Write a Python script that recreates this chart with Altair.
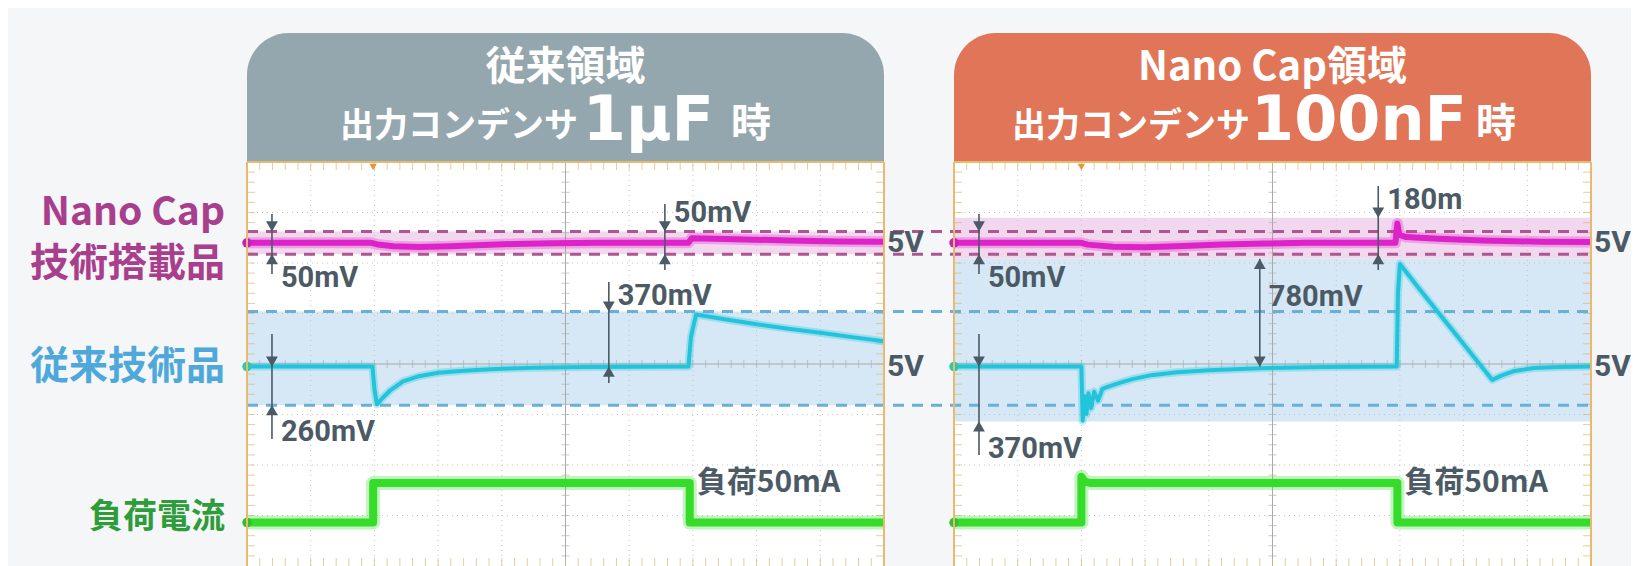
import altair as alt
import numpy as np
import pandas as pd

# ---------------- values ----------------
# time axis: oscilloscope divisions (10 per screen)
# output voltages: deviation from 5 V in mV, load current in mA
panels = ["L", "R"]
header_line1 = ["従来領域", "Nano Cap領域"]
header_cap = ["1μF", "100nF"]
header_fill = ["#95a7ae", "#e07558"]

nano_left_t = [0, 1.95, 2.05, 2.3, 2.7, 3.2, 3.7, 4.2, 4.8, 5.5, 6.93, 6.98, 7.5, 8.5, 9.3, 10]
nano_left_v = [0, 0, -7, -15, -18, -15, -10, -5, -2, 0, 0, 20, 17, 10, 6, 5]

conv_left_t = [0, 1.97, 2.0, 2.04, 2.12, 2.25, 2.45, 2.7, 3.0, 3.4, 3.9, 4.5, 5.3, 6.93,
               6.97, 7.05, 7.5, 8.0, 8.5, 9.0, 9.5, 10]
conv_left_v = [0, 0, -150, -255, -215, -160, -100, -65, -42, -28, -16, -9, -4, 0,
               200, 350, 318, 285, 255, 227, 198, 170]

load_left_t = [0, 1.98, 1.98, 6.95, 6.95, 10]
load_left_v = [0, 0, 50, 50, 0, 0]

nano_right_t = [0, 2.0, 2.1, 2.5, 3.0, 3.6, 4.2, 4.9, 5.5, 6.93, 6.96, 6.99, 7.1, 7.6, 8.3, 9.2, 10]
nano_right_v = [0, 0, -8, -17, -19, -14, -8, -3, 0, 0, 85, 35, 25, 18, 10, 5, 3]

conv_right_t = [0, 2.0, 2.02, 2.05, 2.08, 2.11, 2.15, 2.2, 2.26, 2.33, 2.42, 2.6, 2.8, 3.1, 3.5,
                4.0, 4.8, 5.8, 6.95, 6.97, 7.0, 7.3, 7.7, 8.1, 8.45, 8.6, 8.8, 9.1, 9.5, 10]
conv_right_v = [0, 0, -365, -200, -320, -180, -280, -170, -230, -150, -135, -110, -85, -58, -38,
                -25, -12, -4, 0, 500, 690, 525, 311, 97, -90, -60, -30, -10, -3, 0]

load_right_t = [0, 2.0, 2.0, 2.05, 2.15, 6.96, 6.96, 10]
load_right_v = [0, 0, 58, 52, 50, 50, 0, 0]

trigger_t = [1.98, 2.0]
load_label_t = [6.95, 6.96]

# tolerance bands (mV) per panel / channel
band_panel = ["L", "L", "R", "R"]
band_ch = ["m", "c", "m", "c"]
band_lo = [-50, -260, -70, -370]
band_hi = [50, 370, 110, 725]

# reference dashed levels (mV), drawn across both screens
ref_ch = ["m", "m", "c", "c"]
ref_v = [50, -50, 370, -260]

# measurement arrows
ann_panel = ["L", "L", "L", "L", "R", "R", "R", "R"]
ann_t = [0.392, 6.56, 5.68, 0.392, 0.392, 0.392, 4.80, 6.66]
ann_ch = ["m", "m", "c", "c", "m", "c", "c", "m"]
ann_hi = [50, 50, 370, 0, 50, 0, 725, 110]
ann_lo = [-50, -50, 0, -260, -50, -370, 0, -50]
ann_text = ["50mV", "50mV", "370mV", "260mV", "50mV", "370mV", "780mV", "180m"]
ann_style = ["out", "out", "out", "out", "out", "out", "in", "out"]

# ---------------- layout (scope divisions) ----------------
W, H = 1623, 558
PX_X, PX_Y = 63.7, 50.5
XMIN = -3.752
XMAX = XMIN + W / PX_X
YMIN = -4.0
YMAX = YMIN + H / PX_Y
R_OFF = 11.099          # right screen starts 11.099 divisions after the left one
HEAD_TOP = 6.554

# channel offset (div) and sensitivity (units per div)
M_OFF, M_DIV = 2.40, 221.6
C_OFF, C_DIV = -0.05, 340.0
G_OFF, G_DIV = -3.14, 64.0

ann_line_top = [2.971, 3.169, 1.624, 0.594, 2.971, 0.594, None, 3.525]
ann_line_bot = [1.783, 1.862, -0.376, -1.485, 1.783, -1.802, None, 1.862]
ann_label_y = [1.525, 2.812, 1.169, -1.524, 1.525, -1.861, 1.149, 3.070]

TRACE_COL = {"m": "#dc22c8", "c": "#22c4dc", "g": "#36dc2a"}
MARK_COL = {"m": "#c81fc0", "c": "#2cc9a6", "g": "#30c030"}
FRAME = "#e8b96e"
INK = "#4b5a65"
JP = "Noto Sans CJK JP"
NARROW = "Liberation Sans Narrow, Roboto"

xs = alt.Scale(domain=[XMIN, XMAX], nice=False, zero=False)
ys = alt.Scale(domain=[YMIN, YMAX], nice=False, zero=False)


def X(f):
    return alt.X(f"{f}:Q", scale=xs, axis=None)


def Y(f):
    return alt.Y(f"{f}:Q", scale=ys, axis=None)


def xexpr(field):
    return f"datum.{field} + (datum.panel === 'R' ? {R_OFF} : 0)"


def yexpr(field):
    return (f"datum.ch === 'm' ? {M_OFF} + datum.{field} / {M_DIV} : "
            f"datum.ch === 'c' ? {C_OFF} + datum.{field} / {C_DIV} : "
            f"{G_OFF} + datum.{field} / {G_DIV}")


layers = []

# header boxes
head = pd.DataFrame({"panel": panels, "t0": [0, 0], "t1": [10, 10],
                     "y0": [4, 4], "y1": [HEAD_TOP, HEAD_TOP], "fill": header_fill})
layers.append(alt.Chart(head).transform_calculate(gx0=xexpr("t0"), gx1=xexpr("t1"))
              .mark_rect(cornerRadiusTopLeft=42, cornerRadiusTopRight=42)
              .encode(x=X("gx0"), x2="gx1", y=Y("y0"), y2="y1",
                      color=alt.Color("fill:N", scale=None)))

# scope screen
screen = pd.DataFrame({"panel": panels, "t0": [0, 0], "t1": [10, 10], "y0": [YMIN, YMIN], "y1": [4, 4]})
layers.append(alt.Chart(screen).transform_calculate(gx0=xexpr("t0"), gx1=xexpr("t1"))
              .mark_rect(color="white")
              .encode(x=X("gx0"), x2="gx1", y=Y("y0"), y2="y1"))

# bands
bands = pd.DataFrame({"panel": band_panel, "ch": band_ch, "lo": band_lo, "hi": band_hi,
                      "t0": 0, "t1": 10})
bands["fill"] = bands["ch"].map({"m": "#f2d8ee", "c": "#d6e8f5"})
layers.append(alt.Chart(bands)
              .transform_calculate(gx0=xexpr("t0"), gx1=xexpr("t1"), ylo=yexpr("lo"), yhi=yexpr("hi"))
              .mark_rect()
              .encode(x=X("gx0"), x2="gx1", y=Y("ylo"), y2="yhi",
                      color=alt.Color("fill:N", scale=None)))

# grid
gv = pd.DataFrame([(p, t) for p in panels for t in [1, 2, 3, 4, 6, 7, 8, 9]], columns=["panel", "t"])
gv["y0"], gv["y1"] = YMIN, 4
layers.append(alt.Chart(gv).transform_calculate(gx=xexpr("t"))
              .mark_rule(color="#c4c4c4", strokeWidth=1, strokeDash=[1, 4])
              .encode(x=X("gx"), y=Y("y0"), y2="y1"))
gh = pd.DataFrame([(p, y) for p in panels for y in [-3, -2, -1, 1, 2, 3]], columns=["panel", "y"])
gh["t0"], gh["t1"] = 0, 10
layers.append(alt.Chart(gh).transform_calculate(gx0=xexpr("t0"), gx1=xexpr("t1"))
              .mark_rule(color="#c4c4c4", strokeWidth=1, strokeDash=[1, 4])
              .encode(x=X("gx0"), x2="gx1", y=Y("y")))
cv = pd.DataFrame({"panel": panels, "t": [5, 5], "y0": [YMIN, YMIN], "y1": [4, 4]})
layers.append(alt.Chart(cv).transform_calculate(gx=xexpr("t"))
              .mark_rule(color="#a9a9a9", strokeWidth=1)
              .encode(x=X("gx"), y=Y("y0"), y2="y1"))
ch_ = pd.DataFrame({"panel": panels, "y": [0, 0], "t0": [0, 0], "t1": [10, 10]})
layers.append(alt.Chart(ch_).transform_calculate(gx0=xexpr("t0"), gx1=xexpr("t1"))
              .mark_rule(color="#a9a9a9", strokeWidth=1)
              .encode(x=X("gx0"), x2="gx1", y=Y("y")))

# minor ticks
tsteps = np.round(np.arange(0.2, 10, 0.2), 2)
ysteps = np.round(np.arange(-3.8, 4, 0.2), 2)
tk_h = pd.DataFrame([(p, t) for p in panels for t in tsteps], columns=["panel", "t"])
for yy, off, col in [(4, 4, "#d9b878"), (YMIN, -4, "#d9b878"), (0, 0, "#b0b0b0")]:
    d = tk_h.copy()
    d["y"] = yy
    layers.append(alt.Chart(d).transform_calculate(gx=xexpr("t"))
                  .mark_tick(orient="vertical", size=8, thickness=1, yOffset=off, color=col)
                  .encode(x=X("gx"), y=Y("y")))
tk_v = pd.DataFrame([(p, y) for p in panels for y in ysteps], columns=["panel", "y"])
for tt, off, col in [(0, 4, "#d9b878"), (10, -4, "#d9b878"), (5, 0, "#b0b0b0")]:
    d = tk_v.copy()
    d["t"] = tt
    layers.append(alt.Chart(d).transform_calculate(gx=xexpr("t"))
                  .mark_tick(orient="horizontal", size=8, thickness=1, xOffset=off, color=col)
                  .encode(x=X("gx"), y=Y("y")))

# dashed reference levels spanning both screens
refs = pd.DataFrame({"panel": "L", "ch": ref_ch, "v": ref_v, "t0": 0, "t1": R_OFF + 10})
refs["col"] = refs["ch"].map({"m": "#ad5690", "c": "#68b0d8"})
layers.append(alt.Chart(refs).transform_calculate(gx0=xexpr("t0"), gx1=xexpr("t1"), y=yexpr("v"))
              .mark_rule(strokeWidth=3, strokeDash=[11, 8])
              .encode(x=X("gx0"), x2="gx1", y=Y("y"), color=alt.Color("col:N", scale=None)))

# traces
rows = []
for panel, ch, ts, vs in [("L", "m", nano_left_t, nano_left_v), ("L", "c", conv_left_t, conv_left_v),
                          ("L", "g", load_left_t, load_left_v), ("R", "m", nano_right_t, nano_right_v),
                          ("R", "c", conv_right_t, conv_right_v), ("R", "g", load_right_t, load_right_v)]:
    for i, (t, v) in enumerate(zip(ts, vs)):
        rows.append((panel, ch, panel + ch, i, t, v))
traces = pd.DataFrame(rows, columns=["panel", "ch", "series", "i", "t", "v"])
widths = {"m": (11, 6), "c": (8, 4), "g": (14, 8)}
for ch, (halo, core) in widths.items():
    base = (alt.Chart(traces).transform_filter(f"datum.ch === '{ch}'")
            .transform_calculate(gx=xexpr("t"), y=yexpr("v")))
    enc = dict(x=X("gx"), y=Y("y"), detail="series:N", order="i:Q")
    layers.append(base.mark_line(color=TRACE_COL[ch], strokeWidth=halo, opacity=0.3,
                                 strokeJoin="round").encode(**enc))
    layers.append(base.mark_line(color=TRACE_COL[ch], strokeWidth=core,
                                 strokeJoin="round").encode(**enc))

# channel markers at screen edge
mk = pd.DataFrame([(p, c) for p in panels for c in ["m", "c", "g"]], columns=["panel", "ch"])
mk["t"], mk["v"] = 0, 0
mk["col"] = mk["ch"].map(MARK_COL)
layers.append(alt.Chart(mk).transform_calculate(gx=xexpr("t"), y=yexpr("v"))
              .mark_point(filled=True, size=90, opacity=1)
              .encode(x=X("gx"), y=Y("y"), color=alt.Color("col:N", scale=None)))

# frame
fr_top = pd.DataFrame({"panel": panels, "t0": [0, 0], "t1": [10, 10], "y": [4, 4]})
layers.append(alt.Chart(fr_top).transform_calculate(gx0=xexpr("t0"), gx1=xexpr("t1"))
              .mark_rule(color=FRAME, strokeWidth=2)
              .encode(x=X("gx0"), x2="gx1", y=Y("y")))
fr_side = pd.DataFrame([(p, t) for p in panels for t in [0, 10]], columns=["panel", "t"])
fr_side["y0"], fr_side["y1"] = YMIN, 4
layers.append(alt.Chart(fr_side).transform_calculate(gx=xexpr("t"))
              .mark_rule(color=FRAME, strokeWidth=2)
              .encode(x=X("gx"), y=Y("y0"), y2="y1"))

# trigger marker
trg = pd.DataFrame({"panel": panels, "t": trigger_t, "y": [4, 4]})
layers.append(alt.Chart(trg).transform_calculate(gx=xexpr("t"))
              .mark_point(shape="triangle-down", filled=True, size=55, color="#e8963a", opacity=1, yOffset=5)
              .encode(x=X("gx"), y=Y("y")))

# measurement arrows
ann = pd.DataFrame({"panel": ann_panel, "t": ann_t, "ch": ann_ch, "hi": ann_hi, "lo": ann_lo,
                    "text": ann_text, "style": ann_style, "ltop": ann_line_top,
                    "lbot": ann_line_bot, "ly": ann_label_y})
out = ann[ann["style"] == "out"]
inn = ann[ann["style"] == "in"].drop(columns=["ltop", "lbot"])
layers.append(alt.Chart(out).transform_calculate(gx=xexpr("t"))
              .mark_rule(color=INK, strokeWidth=1.6)
              .encode(x=X("gx"), y=Y("ltop"), y2="lbot"))
layers.append(alt.Chart(inn).transform_calculate(gx=xexpr("t"), yh=yexpr("hi"), yl=yexpr("lo"))
              .mark_rule(color=INK, strokeWidth=1.6)
              .encode(x=X("gx"), y=Y("yh"), y2="yl"))
heads = []
for _, r in ann.iterrows():
    if r["style"] == "out":
        heads.append((r["panel"], r["t"], r["ch"], r["hi"], "down"))
        heads.append((r["panel"], r["t"], r["ch"], r["lo"], "up"))
    else:
        heads.append((r["panel"], r["t"], r["ch"], r["hi"], "up"))
        heads.append((r["panel"], r["t"], r["ch"], r["lo"], "down"))
heads = pd.DataFrame(heads, columns=["panel", "t", "ch", "v", "dir"])
for d, off in [("down", -5), ("up", 5)]:
    layers.append(alt.Chart(heads[heads["dir"] == d]).transform_calculate(gx=xexpr("t"), y=yexpr("v"))
                  .mark_point(shape=f"triangle-{d}", filled=True, size=140, color=INK, opacity=1, yOffset=off)
                  .encode(x=X("gx"), y=Y("y")))
layers.append(alt.Chart(ann).transform_calculate(gx=xexpr("t"))
              .mark_text(font=NARROW, fontSize=29, fontWeight="bold", color=INK, align="left",
                         baseline="alphabetic", dx=9)
              .encode(x=X("gx"), y=Y("ly"), text="text:N"))

# 5V labels right of each screen
fv = pd.DataFrame([(p, c) for p in panels for c in ["m", "c"]], columns=["panel", "ch"])
fv["t"], fv["v"], fv["text"] = 10, 0, "5V"
layers.append(alt.Chart(fv).transform_calculate(gx=xexpr("t"), y=yexpr("v"))
              .mark_text(font="Roboto", fontSize=30, fontWeight="bold", color=INK, align="left",
                         baseline="middle", dx=3)
              .encode(x=X("gx"), y=Y("y"), text="text:N"))

# load labels
ld = pd.DataFrame({"panel": panels, "t": load_label_t, "ch": "g", "v": 50, "text": "負荷50mA"})
layers.append(alt.Chart(ld).transform_calculate(gx=xexpr("t"), y=yexpr("v"))
              .mark_text(font=JP, fontSize=30, fontWeight="bold", color=INK, align="left",
                         baseline="middle", dx=7)
              .encode(x=X("gx"), y=Y("y"), text="text:N"))

# header texts
h1 = pd.DataFrame({"panel": panels, "t": [5, 5], "y": [5.624, 5.624], "text": header_line1})
layers.append(alt.Chart(h1).transform_calculate(gx=xexpr("t"))
              .mark_text(font=JP, fontSize=40, fontWeight="bold", color="white", align="center",
                         baseline="alphabetic")
              .encode(x=X("gx"), y=Y("y"), text="text:N"))
h2a = pd.DataFrame({"panel": panels, "t": [5.196, 4.647], "y": [4.496, 4.496], "text": "出力コンデンサ"})
layers.append(alt.Chart(h2a).transform_calculate(gx=xexpr("t"))
              .mark_text(font=JP, fontSize=34, fontWeight="bold", color="white", align="right",
                         baseline="alphabetic")
              .encode(x=X("gx"), y=Y("y"), text="text:N"))
h2b = pd.DataFrame({"panel": panels, "t": [6.30, 6.358], "y": [4.436, 4.436], "text": header_cap})
layers.append(alt.Chart(h2b).transform_calculate(gx=xexpr("t"))
              .mark_text(font="DejaVu Sans", fontSize=62, fontWeight="bold", color="white",
                         align="center", baseline="alphabetic")
              .encode(x=X("gx"), y=Y("y"), text="text:N"))
h2c = pd.DataFrame({"panel": panels, "t": [7.60, 8.195], "y": [4.496, 4.496], "text": "時"})
layers.append(alt.Chart(h2c).transform_calculate(gx=xexpr("t"))
              .mark_text(font=JP, fontSize=40, fontWeight="bold", color="white", align="left",
                         baseline="alphabetic")
              .encode(x=X("gx"), y=Y("y"), text="text:N"))

# channel names on the left
names = pd.DataFrame({"panel": "L", "t": -0.345,
                      "y": [2.75, 1.743, -0.297, -3.247],
                      "text": ["Nano Cap", "技術搭載品", "従来技術品", "負荷電流"],
                      "col": ["#a83e8c", "#a83e8c", "#4ea8d9", "#2f9c3a"],
                      "size": [39, 39, 39, 34]})
for sz in [39, 34]:
    layers.append(alt.Chart(names[names["size"] == sz]).transform_calculate(gx=xexpr("t"))
                  .mark_text(font=JP, fontSize=sz, fontWeight="bold", align="right", baseline="alphabetic")
                  .encode(x=X("gx"), y=Y("y"), text="text:N", color=alt.Color("col:N", scale=None)))

chart = (alt.layer(*layers)
         .properties(width=W, height=H, autosize=alt.AutoSizeParams(type="none"), padding=0)
         .configure(background="#f4f6f8")
         .configure_view(strokeWidth=0))

chart.save("out.html", embed_options={"renderer": "svg", "actions": False})
